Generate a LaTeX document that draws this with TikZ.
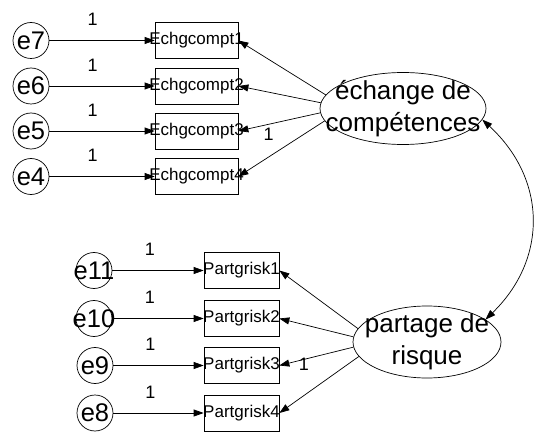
\documentclass[tikz,border=0pt]{standalone}
\usepackage{fontspec}
\setmainfont{Liberation Sans}
\usetikzlibrary{arrows.meta,shapes.geometric}
\begin{document}
\begin{tikzpicture}[x=1pt,y=-1pt,line width=0.7pt,
  errc/.style={circle,draw,minimum size=36pt,inner sep=0pt,
    label={[inner sep=0pt,font=\fontsize{25.5}{28}\selectfont]center:#1}},
  obsbox/.style 2 args={rectangle,draw,minimum width=#1,minimum height=36pt,inner sep=0pt,
    label={[inner sep=0pt,font=\fontsize{17}{19}\selectfont]center:#2}},
  latent/.style 2 args={ellipse,draw,minimum width=#1,minimum height=72pt,inner sep=0pt,
    label={[inner sep=0pt,align=center,font=\fontsize{26}{32}\selectfont]center:#2}},
  arr/.style={-{Triangle[length=10pt,width=7pt]}},
  dblarr/.style={{Triangle[length=10pt,width=7pt]}-{Triangle[length=10pt,width=7pt]}},
  wt/.style={inner sep=0pt,font=\fontsize{18}{20}\selectfont}]
\useasboundingbox (0,0) rectangle (536,433);

% competence exchange block
\node[obsbox={83pt}{Echgcompt1}] (c1) at (196.5,40.5) {};
\node[obsbox={83pt}{Echgcompt2}] (c2) at (196.5,86) {};
\node[obsbox={83pt}{Echgcompt3}] (c3) at (196.5,131) {};
\node[obsbox={83pt}{Echgcompt4}] (c4) at (196.5,176.5) {};
\node[errc=e7] (e7) at (31,40.5) {};
\node[errc=e6] (e6) at (31,86) {};
\node[errc=e5] (e5) at (31,131) {};
\node[errc=e4] (e4) at (31,176.5) {};
\node[latent={166pt}{échange de\\compétences}] (Fc) at (403,108.5) {};

% risk sharing block
\node[obsbox={75pt}{Partgrisk1}] (p1) at (241.5,270.5) {};
\node[obsbox={75pt}{Partgrisk2}] (p2) at (241.5,318.5) {};
\node[obsbox={75pt}{Partgrisk3}] (p3) at (241.5,365.5) {};
\node[obsbox={75pt}{Partgrisk4}] (p4) at (241.5,413) {};
\node[errc=e11] (e11) at (94,270.5) {};
\node[errc=e10] (e10) at (94,318.5) {};
\node[errc=e9] (e9) at (95,365.5) {};
\node[errc=e8] (e8) at (95,413) {};
\node[latent={148pt}{partage de\\risque}] (Fr) at (427,342) {};

% error terms
\foreach \e/\b in {e7/c1,e6/c2,e5/c3,e4/c4,e11/p1,e10/p2,e9/p3,e8/p4}
  \draw[arr] (\e.east) -- node[wt,pos=0.41,yshift=21pt] {1} (\b.west);

% loadings
\draw[arr] (Fc.170) -- (c1.east);
\draw[arr] (Fc.176) -- (c2.east);
\draw[arr] (Fc.183) -- node[wt,pos=0.63,yshift=-10pt] {1} (c3.east);
\draw[arr] (Fc.189) -- (c4.east);
\draw[arr] (Fr.169) -- (p1.east);
\draw[arr] (Fr.176) -- (p2.east);
\draw[arr] (Fr.184) -- node[wt,pos=0.67,yshift=-5pt] {1} (p3.east);
\draw[arr] (Fr.192) -- (p4.east);

% covariance
\draw[dblarr] (Fc.-8) .. controls +(65,60) and +(62,-60) .. (Fr.21);
\end{tikzpicture}
\end{document}
